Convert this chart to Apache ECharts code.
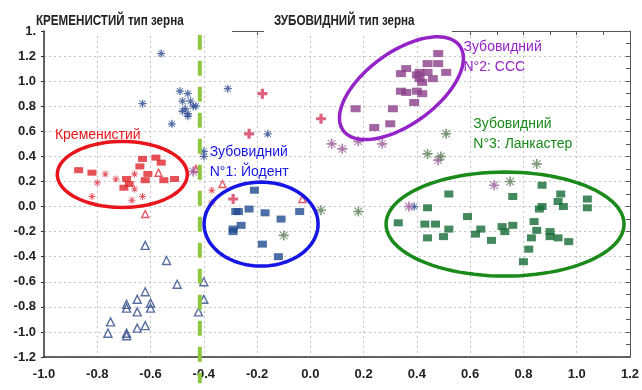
<!DOCTYPE html>
<html>
<head>
<meta charset="utf-8">
<script src="https://cdn.jsdelivr.net/npm/echarts@6/dist/echarts.min.js"></script>
<style>
  html, body { margin: 0; padding: 0; background: #fff; }
  #chart { width: 642px; height: 390px; }
</style>
</head>
<body>
<div id="chart"></div>
<script>
// осі
var xMin = -1.0, xMax = 1.2, yMin = -1.2, yMax = 1.4, step = 0.2;

// Кременистий (червоні)
var flintSquares = [[-0.87,0.29],[-0.82,0.27],[-0.63,0.38],[-0.58,0.39],[-0.56,0.35],[-0.64,0.32],[-0.61,0.26],[-0.69,0.22],[-0.55,0.21],[-0.51,0.22],[-0.62,0.21],[-0.70,0.15],[-0.68,0.18]];
var flintStars = [[-0.77,0.26],[-0.80,0.19],[-0.73,0.22],[-0.82,0.08],[-0.67,0.05],[-0.63,0.08],[-0.66,0.14],[-0.66,0.26],[-0.37,0.13],[-0.37,0.03]];
var redTriangles = [[-0.57,0.27],[-0.62,-0.06],[-0.33,0.18],[-0.43,0.30],[-0.03,0.06]];
var crimsonPlus = [[-0.18,0.90],[-0.23,0.58],[-0.29,0.06],[0.04,0.70]];

// сині
var navyStars = [[-0.56,1.22],[-0.63,0.82],[-0.52,0.66],[-0.31,0.94],[-0.49,0.92],[-0.46,0.90],[-0.48,0.84],[-0.45,0.84],[-0.47,0.78],[-0.44,0.80],[-0.43,0.80],[-0.46,0.74],[-0.46,0.72],[-0.48,0.76],[-0.40,0.44],[-0.40,0.40],[-0.16,0.58],[0.39,0.00]];
var navyTriangles = [[-0.62,-0.31],[-0.54,-0.43],[-0.50,-0.62],[-0.40,-0.60],[-0.40,-0.74],[-0.42,-0.84],[-0.62,-0.68],[-0.65,-0.74],[-0.60,-0.77],[-0.60,-0.81],[-0.69,-0.78],[-0.69,-0.81],[-0.65,-0.84],[-0.75,-0.92],[-0.76,-1.01],[-0.69,-1.01],[-0.69,-1.03],[-0.65,-0.97],[-0.62,-0.95]];

// Зубовидний №1: Йодент
var dent1 = [[-0.21,0.13],[-0.28,-0.04],[-0.27,-0.04],[-0.23,-0.02],[-0.17,-0.05],[-0.11,-0.10],[-0.04,-0.04],[-0.29,-0.18],[-0.26,-0.15],[-0.18,-0.30],[-0.12,-0.40],[-0.29,-0.20]];
// Зубовидний №2: CCC
var dent2 = [[0.48,1.22],[0.44,1.14],[0.48,1.14],[0.36,1.10],[0.34,1.06],[0.41,1.07],[0.44,1.07],[0.51,1.07],[0.40,1.05],[0.41,1.02],[0.46,1.02],[0.42,0.99],[0.34,0.92],[0.36,0.91],[0.40,0.92],[0.42,0.90],[0.39,0.83],[0.17,0.78],[0.31,0.78],[0.30,0.66],[0.24,0.63]];
// Зубовидний №3: Ланкастер
var dent3 = [[0.52,0.10],[0.44,-0.01],[0.33,-0.13],[0.43,-0.14],[0.47,-0.14],[0.52,-0.18],[0.50,-0.24],[0.44,-0.25],[0.59,-0.08],[0.64,-0.18],[0.62,-0.22],[0.68,-0.27],[0.72,-0.16],[0.73,-0.20],[0.76,-0.15],[0.76,0.08],[0.87,0.17],[0.94,0.10],[0.93,0.04],[0.95,0.00],[0.87,0.00],[0.86,-0.02],[0.84,-0.12],[0.85,-0.19],[0.83,-0.25],[0.82,-0.34],[0.80,-0.44],[0.90,-0.20],[0.90,-0.24],[0.93,-0.25],[0.97,-0.28],[1.04,0.06],[1.04,-0.01]];

// змішані зірочки
var purpleStars = [[0.08,0.50],[0.12,0.46],[0.18,0.52],[0.27,0.50],[0.48,0.37],[0.69,0.17],[0.37,0.00],[-0.44,0.28]];
var greenStars = [[0.51,0.58],[0.44,0.42],[0.49,0.40],[0.85,0.34],[0.75,0.20],[-0.10,-0.23],[0.04,-0.03],[0.18,-0.04]];

// межа між типами зерна
var splitX = -0.415;

// еліпси кластерів: центр (дані), півосі (px), кут (град)
var rings = [[-0.706,0.256,65,33,0],[-0.185,-0.14,57,42,0],[0.342,0.944,72,36,36],[0.731,-0.14,119,52,0]];
var ringColors = ["#e8161c", "#1515e6", "#9424c8", "#1a8a1a"];

// підписи кластерів (лівий верхній кут)
var labelPos = [[-0.959,0.648],[-0.378,0.512],[0.575,1.352],[0.612,0.736]];
var labelTexts = ["Кременистий", "Зубовидний\nN°1: Йодент", "Зубовидний\nN°2: CCC", "Зубовидний\nN°3: Ланкастер"];

var labelFont = "'Liberation Sans', Arial, sans-serif";
var starPath = "path://M4.2,0H5.8V4.2H10V5.8H5.8V10H4.2V5.8H0V4.2H4.2Z M1.5,0.8L9.2,8.5L8.5,9.2L0.8,1.5Z M8.5,0.8L9.2,1.5L1.5,9.2L0.8,8.5Z";
var plusPath = "path://M3.4,0H6.6V3.4H10V6.6H6.6V10H3.4V6.6H0V3.4H3.4Z";

function fmt(v) {
  if (Math.abs(v) < 1e-9) return "0.0";
  return v.toFixed(1);
}

const myChart = echarts.init(document.getElementById("chart"));

function scatter(data, symbol, size, color, hollow) {
  return {
    type: "scatter",
    data: data,
    symbol: symbol,
    symbolSize: size,
    itemStyle: hollow
      ? { color: "rgba(255,255,255,0)", borderColor: color, borderWidth: 1.4 }
      : { color: color },
    z: 3
  };
}

myChart.setOption({
  animation: false,
  grid: { left: 44, right: 7, top: 31, bottom: 33 },
  xAxis: [
    {
      type: "value", min: xMin, max: xMax, interval: step, position: "bottom",
      axisLine: { show: true, onZero: false, lineStyle: { color: "#333", width: 1.5 } },
      axisTick: { show: false },
      axisLabel: { formatter: fmt, color: "#222", fontFamily: labelFont, fontSize: 13, fontWeight: "bold", margin: 11 },
      splitLine: { show: true, lineStyle: { color: "#c4c4c4", type: [2, 3] } }
    },
    {
      type: "value", min: xMin, max: xMax, interval: step, position: "top",
      axisLine: { show: true, onZero: false, lineStyle: { color: "#555" } },
      axisTick: { show: true, inside: true, length: 4, lineStyle: { color: "#555" } },
      minorTick: { show: true, splitNumber: 2, length: 4, lineStyle: { color: "#555" } },
      axisLabel: { show: false },
      splitLine: { show: false }
    }
  ],
  yAxis: [
    {
      type: "value", min: yMin, max: yMax, interval: step, position: "left",
      axisLine: { show: true, onZero: false, lineStyle: { color: "#333", width: 1.5 } },
      axisTick: { show: true, length: 3, lineStyle: { color: "#333" } },
      axisLabel: {
        formatter: function (v) { return v > 1.35 ? "1." : fmt(v); },
        color: "#222", fontFamily: labelFont, fontSize: 13, fontWeight: "bold", margin: 8
      },
      splitLine: { show: true, lineStyle: { color: "#c4c4c4", type: [2, 3] } }
    },
    {
      type: "value", min: yMin, max: yMax, interval: step, position: "right",
      axisLine: { show: true, onZero: false, lineStyle: { color: "#555" } },
      axisTick: { show: true, inside: true, length: 4, lineStyle: { color: "#555" } },
      minorTick: { show: true, splitNumber: 2, length: 4, lineStyle: { color: "#555" } },
      axisLabel: { show: false },
      splitLine: { show: false }
    }
  ],
  series: [
    scatter(navyTriangles, "triangle", 8, "#2f4a8a", true),
    scatter(redTriangles, "triangle", 7, "#e0303a", true),
    scatter(navyStars, starPath, 8, "#2a4a90"),
    scatter(flintStars, starPath, 7, "#e03040"),
    scatter(crimsonPlus, plusPath, 10, "#d8395e"),
    scatter(purpleStars, starPath, 10, "#9a5a98"),
    scatter(greenStars, starPath, 10, "#5a7f55"),
    scatter(flintSquares, "rect", [9, 6], "#e0262e"),
    scatter(dent1, "rect", [9, 7], "#1f4b8e"),
    scatter(dent2, "rect", [10, 7], "#8b3f8a"),
    scatter(dent3, "rect", [9, 7], "#146b34"),
    {
      type: "line",
      data: [[splitX, 1.37], [splitX, -1.41]],
      symbol: "none",
      clip: false,
      lineStyle: { color: "#8dc63f", width: 4, type: [15, 11] },
      z: 4
    },
    {
      type: "custom",
      data: rings,
      encode: { x: 0, y: 1 },
      clip: false,
      z: 5,
      renderItem: function (params, api) {
        var c = api.coord([api.value(0), api.value(1)]);
        var rx = api.value(2), ry = api.value(3), a = api.value(4) * Math.PI / 180;
        var pts = [];
        for (var i = 0; i < 96; i++) {
          var t = i / 96 * Math.PI * 2;
          var ex = rx * Math.cos(t), ey = ry * Math.sin(t);
          pts.push([c[0] + ex * Math.cos(a) + ey * Math.sin(a), c[1] - ex * Math.sin(a) + ey * Math.cos(a)]);
        }
        return {
          type: "polygon",
          shape: { points: pts },
          style: { fill: "none", stroke: ringColors[params.dataIndex], lineWidth: 3.5 }
        };
      }
    },
    {
      type: "custom",
      data: labelPos,
      encode: { x: 0, y: 1 },
      clip: false,
      z: 6,
      renderItem: function (params, api) {
        var c = api.coord([api.value(0), api.value(1)]);
        return {
          type: "text",
          x: c[0],
          y: c[1],
          style: {
            text: labelTexts[params.dataIndex],
            fill: ringColors[params.dataIndex],
            font: "14px " + labelFont,
            lineHeight: 20,
            align: "left",
            verticalAlign: "top"
          }
        };
      }
    }
  ],
  graphic: [
    { type: "rect", shape: { x: 45, y: 25, width: 187, height: 10 }, style: { fill: "#fff" }, z: 100 },
    { type: "rect", shape: { x: 264, y: 25, width: 188, height: 10 }, style: { fill: "#fff" }, z: 100 },
    { type: "text", x: 36, y: 14, scaleX: 0.83, z: 101,
      style: { text: "КРЕМЕНИСТИЙ тип зерна", font: "bold 14px " + labelFont, fill: "#222" } },
    { type: "text", x: 274, y: 14, scaleX: 0.83, z: 101,
      style: { text: "ЗУБОВИДНИЙ тип зерна", font: "bold 14px " + labelFont, fill: "#222" } }
  ]
});
</script>
</body>
</html>
